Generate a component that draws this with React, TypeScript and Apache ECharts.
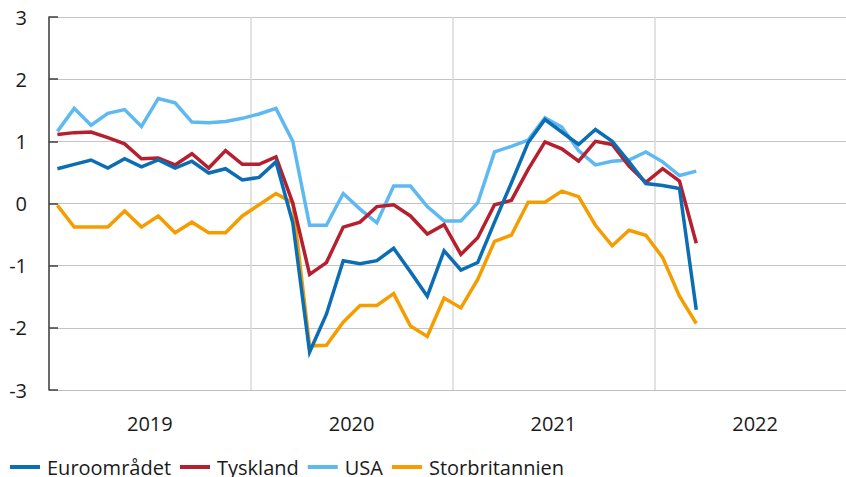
import React, { useEffect, useRef } from "react";
import * as echarts from "echarts";

const years = ["2019", "2020", "2021", "2022"];
const monthNums = ["01", "02", "03", "04", "05", "06", "07", "08", "09", "10", "11", "12"];
const months: string[] = [];
years.forEach((y) => monthNums.forEach((m) => months.push(`${y}-${m}`)));

const yTicks = [-3, -2, -1, 0, 1, 2, 3];

const euroomradet = [
  0.56, 0.63, 0.70, 0.57, 0.72, 0.59, 0.70, 0.57, 0.68, 0.49, 0.56, 0.38,
  0.42, 0.67, -0.31, -2.39, -1.78, -0.92, -0.97, -0.92, -0.72, -1.10, -1.49, -0.76,
  -1.07, -0.95, -0.30, 0.33, 0.98, 1.35, 1.15, 0.95, 1.19, 1.00, 0.67, 0.32,
  0.29, 0.24, -1.71,
];
const tyskland = [
  1.11, 1.14, 1.15, 1.06, 0.96, 0.72, 0.73, 0.62, 0.80, 0.57, 0.85, 0.63,
  0.63, 0.75, 0.01, -1.14, -0.95, -0.38, -0.30, -0.05, -0.02, -0.20, -0.49, -0.34,
  -0.82, -0.55, -0.02, 0.05, 0.55, 0.99, 0.88, 0.68, 1.00, 0.95, 0.60, 0.34,
  0.56, 0.36, -0.64,
];
const usa = [
  1.16, 1.53, 1.26, 1.45, 1.51, 1.24, 1.69, 1.62, 1.31, 1.30, 1.32, 1.37,
  1.44, 1.53, 1.00, -0.35, -0.35, 0.16, -0.09, -0.31, 0.28, 0.28, -0.05, -0.28,
  -0.28, 0.01, 0.83, 0.92, 1.02, 1.38, 1.23, 0.85, 0.62, 0.68, 0.70, 0.83,
  0.67, 0.45, 0.52,
];
const storbritannien = [
  -0.03, -0.38, -0.38, -0.38, -0.12, -0.38, -0.20, -0.47, -0.30, -0.47, -0.47, -0.20,
  -0.02, 0.16, 0.01, -2.29, -2.28, -1.91, -1.64, -1.64, -1.45, -1.97, -2.14, -1.52,
  -1.68, -1.22, -0.61, -0.51, 0.02, 0.02, 0.20, 0.11, -0.35, -0.68, -0.43, -0.51,
  -0.87, -1.49, -1.93,
];

const FONT = "'Open Sans', sans-serif";

export default function App() {
  const ref = useRef<HTMLDivElement>(null);
  useEffect(() => {
    if (!ref.current) return;
    const chart = echarts.init(ref.current, undefined, { renderer: "svg" });
    const lineSeries = (name: string, data: number[], color: string) => ({
      name,
      type: "line",
      data,
      xAxisIndex: 0,
      yAxisIndex: 0,
      symbol: "none",
      showSymbol: false,
      color,
      lineStyle: { color, width: 3.5, join: "miter" },
    });
    chart.setOption({
      animation: false,
      textStyle: { fontFamily: FONT },
      grid: {
        left: 49,
        top: 17,
        right: -10,
        bottom: 87,
        containLabel: false,
        outerBoundsMode: "none",
      },
      legend: {
        data: ["Euroområdet", "Tyskland", "USA", "Storbritannien"],
        left: 10,
        top: 457,
        icon: "rect",
        itemWidth: 30,
        itemHeight: 4,
        itemGap: 9,
        padding: 0,
        textStyle: {
          fontFamily: FONT,
          fontSize: 20,
          color: "#1a1a1a",
          lineHeight: 20,
          padding: [0, 0, 0, 2],
        },
      },
      xAxis: [
        {
          type: "category",
          data: months,
          boundaryGap: true,
          show: false,
        },
        {
          type: "category",
          data: years,
          position: "bottom",
          boundaryGap: true,
          axisLine: { show: true, lineStyle: { color: "#bfbfbf", width: 1 } },
          axisTick: { show: false },
          axisLabel: { fontFamily: FONT, fontSize: 20, color: "#1a1a1a", margin: 23 },
          splitLine: { show: true, lineStyle: { color: "#d9d9d9", width: 1.5 } },
        },
      ],
      yAxis: {
        type: "value",
        min: -3,
        max: 3,
        interval: 1,
        axisLine: { show: true, onZero: false, lineStyle: { color: "#404040", width: 1.5 } },
        axisTick: { show: true, inside: true, length: 9, lineStyle: { color: "#404040", width: 1.5 } },
        axisLabel: {
          fontFamily: FONT,
          fontSize: 20,
          color: "#1a1a1a",
          margin: 22,
          formatter: (v: number) => (yTicks.includes(v) ? String(v) : ""),
        },
        splitLine: { show: true, lineStyle: { color: "#c4c4c4", width: 1.2 } },
      },
      series: [
        lineSeries("Storbritannien", storbritannien, "#f59d00"),
        lineSeries("USA", usa, "#5eb8f2"),
        lineSeries("Tyskland", tyskland, "#b61f2e"),
        lineSeries("Euroområdet", euroomradet, "#0b6eb5"),
      ],
    });
    return () => chart.dispose();
  }, []);
  return (
    <div
      ref={ref}
      style={{ position: "fixed", left: 0, top: 0, width: 846, height: 477, background: "#fff" }}
    />
  );
}
